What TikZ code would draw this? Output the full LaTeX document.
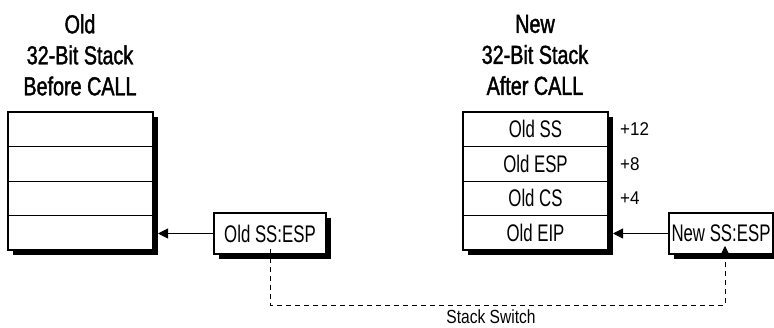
\documentclass[tikz,border=0pt]{standalone}
\usepackage{fontspec}
\setmainfont{Liberation Sans}[FakeStretch=0.7]
\newfontfamily\titlefont{Liberation Sans}[FakeStretch=0.76,FakeBold=1.5]
\newfontfamily\smallfont{Liberation Sans}[FakeStretch=0.82]
\newfontfamily\digitfont{Liberation Sans}[FakeStretch=0.92]
\usetikzlibrary{arrows.meta,calc}
\begin{document}
\begin{tikzpicture}[x=1pt,y=-1pt,
  cell/.style={draw, line width=0.8pt, fill=white, minimum width=145pt, minimum height=34.5pt,
    inner sep=0pt, outer sep=0pt, anchor=north west, font=\fontsize{24}{26}\selectfont},
  ptr/.style={draw, line width=1.5pt, fill=white, minimum height=41pt, inner sep=0pt,
    outer sep=0pt, font=\fontsize{24}{26}\selectfont},
  frame/.style={line width=1.5pt},
  shade/.style={fill=black},
  title/.style={align=center, font=\titlefont\fontsize{26}{31}\selectfont},
  off/.style={anchor=west, inner sep=0pt, font=\digitfont\fontsize{18.5}{20}\selectfont},
  conn/.style={line width=1pt, -{Triangle[length=10pt,width=10pt]}},
  switch/.style={line width=0.8pt, dash pattern=on 5pt off 4pt, -{Triangle[length=10pt,width=10pt]}}
]
\useasboundingbox (0,0) rectangle (774,328);

% titles
\node[title] (ltitle) at (80,55) {Old\\32-Bit Stack\\Before CALL};
\node[title] (rtitle) at (535,55) {New\\32-Bit Stack\\After CALL};

% left stack
\fill[shade] (13,117) rectangle (158,255);
\node[cell] (l1) at (8,112) {};
\node[cell] (l2) at (8,146.5) {};
\node[cell] (l3) at (8,181) {};
\node[cell] (l4) at (8,215.5) {};
\draw[frame] (l1.north west) rectangle (l4.south east);

% right stack
\fill[shade] (468,117) rectangle (613,255);
\node[cell] (r1) at (463,112) {Old SS};
\node[cell] (r2) at (463,146.5) {Old ESP};
\node[cell] (r3) at (463,181) {Old CS};
\node[cell] (r4) at (463,215.5) {Old EIP};
\draw[frame] (r1.north west) rectangle (r4.south east);

% offsets
\node[off] (o12) at (620,129.5) {+12};
\node[off] (o8) at (620,164) {+8};
\node[off] (o4) at (620,198.5) {+4};

% pointer boxes
\fill[shade] (219,218) rectangle (331,259);
\node[ptr, minimum width=112pt] (oldptr) at (270,233.5) {Old SS:ESP};
\fill[shade] (674,218) rectangle (778,259);
\node[ptr, minimum width=104pt] (newptr) at (721,233.5) {New SS:ESP};

% connectors
\draw[conn] (oldptr.west) -- ([xshift=5pt]l4.east |- oldptr.west);
\draw[conn] (newptr.west) -- ([xshift=5pt]r4.east |- newptr.west);
\draw[switch] ([yshift=5pt]oldptr.south) -- ++(0,56) -| ([xshift=4pt,yshift=8pt]newptr.south);

\node[inner sep=0pt, font=\smallfont\fontsize{19}{20}\selectfont] (sw) at (491,317) {Stack Switch};
\end{tikzpicture}
\end{document}
